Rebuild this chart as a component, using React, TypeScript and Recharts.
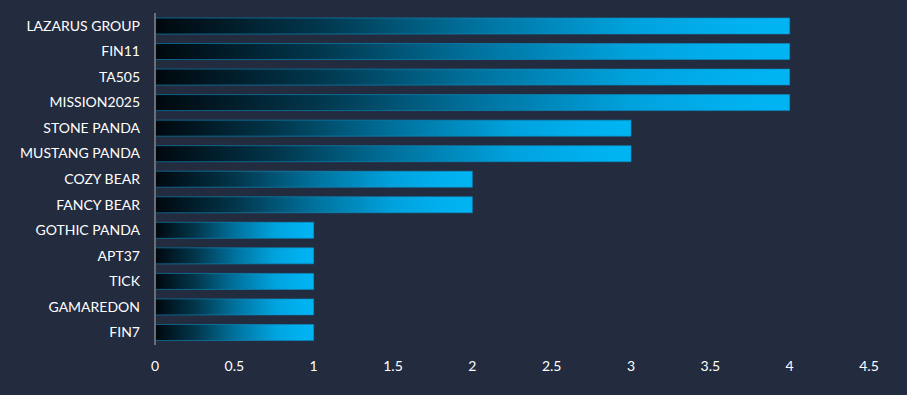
import { BarChart, Bar, XAxis, YAxis } from "recharts";

const groups = [
  "LAZARUS GROUP",
  "FIN11",
  "TA505",
  "MISSION2025",
  "STONE PANDA",
  "MUSTANG PANDA",
  "COZY BEAR",
  "FANCY BEAR",
  "GOTHIC PANDA",
  "APT37",
  "TICK",
  "GAMAREDON",
  "FIN7",
];
const counts = [4, 4, 4, 4, 3, 3, 2, 2, 1, 1, 1, 1, 1];
const xTicks = [0, 0.5, 1, 1.5, 2, 2.5, 3, 3.5, 4, 4.5];

const data = groups.map((name, i) => ({ name, count: counts[i] }));

const BG = "#232b3e";
const FONT = "Lato, 'Open Sans', sans-serif";

export default function App() {
  return (
    <div style={{ position: "absolute", left: 0, top: 0, width: 907, height: 395, background: BG }}>
      <BarChart
        width={907}
        height={395}
        data={data}
        layout="vertical"
        margin={{ top: 13, right: 38, left: 0, bottom: 0 }}
      >
        <defs>
          <linearGradient id="barFill" x1="0" y1="0" x2="1" y2="0">
            <stop offset="0" stopColor="#00070d" />
            <stop offset="0.25" stopColor="#02354a" />
            <stop offset="0.5" stopColor="#00719c" />
            <stop offset="0.75" stopColor="#00a2dd" />
            <stop offset="0.92" stopColor="#00b1f0" />
            <stop offset="1" stopColor="#00b4f2" />
          </linearGradient>
        </defs>
        <XAxis
          type="number"
          domain={[0, 4.5]}
          ticks={xTicks}
          axisLine={false}
          tickLine={false}
          tickSize={0}
          tickMargin={16}
          height={50}
          tick={{ fill: "#ffffff", fontSize: 14, fontFamily: FONT }}
        />
        <Bar
          dataKey="count"
          fill="url(#barFill)"
          stroke="#0a8fc4"
          strokeOpacity={0.6}
          strokeWidth={1}
          barSize={16}
          isAnimationActive={false}
        />
        <YAxis
          type="category"
          dataKey="name"
          width={155}
          axisLine={{ stroke: "#6b6e75", strokeWidth: 2 }}
          tickLine={false}
          tickSize={0}
          tickMargin={15}
          interval={0}
          tick={{ fill: "#ffffff", fontSize: 14, fontFamily: FONT }}
        />
      </BarChart>
    </div>
  );
}
